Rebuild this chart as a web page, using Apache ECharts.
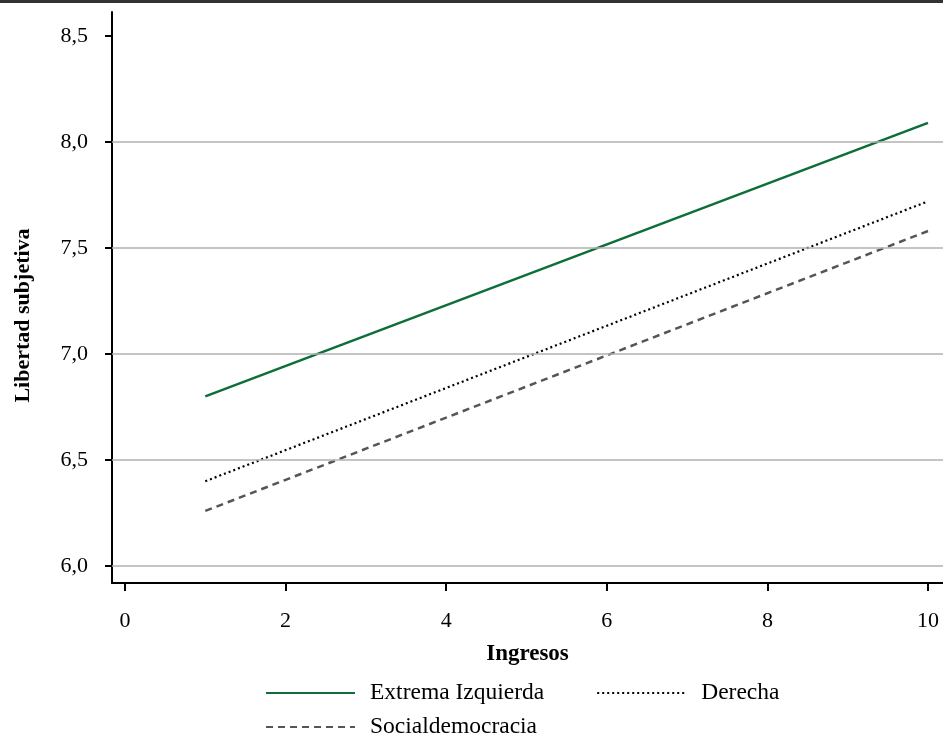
<!DOCTYPE html>
<html>
<head>
<meta charset="utf-8">
<script src="https://cdn.jsdelivr.net/npm/echarts@6/dist/echarts.min.js"></script>
<style>
html,body{margin:0;padding:0;background:#fff;}
#chart{width:943px;height:733px;}
</style>
</head>
<body>
<div id="chart"></div>
<script>
// Data
const seriesNames = ['Extrema Izquierda', 'Derecha', 'Socialdemocracia'];
const extremaIzquierda = [[1, 6.80], [10, 8.09]];
const derecha = [[1, 6.40], [10, 7.72]];
const socialdemocracia = [[1, 6.26], [10, 7.58]];
const xTicks = [0, 2, 4, 6, 8, 10];
const yTicks = [6.0, 6.5, 7.0, 7.5, 8.0, 8.5];
const gridValues = [6.0, 6.5, 7.0, 7.5, 8.0];

const FONT = '"Liberation Serif", "Times New Roman", serif';
const chart = echarts.init(document.getElementById('chart'), null, {renderer: 'canvas'});

const option = {
  backgroundColor: '#fff',
  animation: false,
  graphic: [{
    type: 'rect', left: 0, top: 0, z: 100,
    shape: {width: 943, height: 3},
    style: {fill: '#333'}
  }],
  grid: {left: 112, right: 0, top: 12, bottom: 150, containLabel: false},
  xAxis: {
    type: 'value',
    min: -0.162, max: 10.187,
    name: 'Ingresos',
    nameLocation: 'middle',
    nameGap: 60,
    nameTextStyle: {fontFamily: FONT, fontSize: 23, fontWeight: 'bold', color: '#000'},
    axisLine: {show: true, onZero: false, lineStyle: {color: '#000', width: 2}},
    axisTick: {show: true, length: 8, lineStyle: {color: '#000', width: 2}, customValues: xTicks},
    axisLabel: {customValues: xTicks, fontFamily: FONT, fontSize: 22, color: '#000', margin: 27,
      formatter: v => String(v)},
    splitLine: {show: false}
  },
  yAxis: {
    type: 'value',
    min: 5.92, max: 8.613,
    name: 'Libertad subjetiva',
    nameLocation: 'middle',
    nameGap: 78,
    nameRotate: 90,
    nameTextStyle: {fontFamily: FONT, fontSize: 22, fontWeight: 'bold', color: '#000', padding: [0, 36, 0, 0]},
    axisLine: {show: true, onZero: false, lineStyle: {color: '#000', width: 2}},
    axisTick: {show: true, length: 7, lineStyle: {color: '#000', width: 2}, customValues: yTicks},
    axisLabel: {customValues: yTicks, fontFamily: FONT, fontSize: 22, color: '#000', margin: 24,
      formatter: v => v.toFixed(1).replace('.', ',')},
    splitLine: {show: false}
  },
  legend: [{
    data: [seriesNames[0], seriesNames[1]],
    left: 260, top: 676, orient: 'horizontal',
    itemWidth: 89, itemHeight: 14, itemGap: 52,
    itemStyle: {color: 'rgba(0,0,0,0)', borderWidth: 0, opacity: 0},
    textStyle: {fontFamily: FONT, fontSize: 23.5, color: '#000', padding: [0, 0, 0, 10]},
    selectedMode: false
  }, {
    data: [seriesNames[2]],
    left: 260, top: 710, orient: 'horizontal',
    itemWidth: 89, itemHeight: 14,
    itemStyle: {color: 'rgba(0,0,0,0)', borderWidth: 0, opacity: 0},
    textStyle: {fontFamily: FONT, fontSize: 23.5, color: '#000', padding: [0, 0, 0, 10]},
    selectedMode: false
  }],
  series: [
    {
      name: '__grid', type: 'line', data: [], z: 1, silent: true,
      markLine: {
        silent: true, symbol: ['none', 'none'], label: {show: false},
        lineStyle: {color: '#b0b0b0', width: 1.5, type: 'solid'},
        data: gridValues.map(v => ({yAxis: v}))
      }
    },
    {
      name: seriesNames[0], type: 'line', data: extremaIzquierda, z: 3,
      symbol: 'none', color: '#0d6e3a',
      lineStyle: {color: '#0d6e3a', width: 2.5, type: 'solid'}
    },
    {
      name: seriesNames[1], type: 'line', data: derecha, z: 3,
      symbol: 'none', color: '#000',
      lineStyle: {color: '#000', width: 2.2, type: [2, 3]}
    },
    {
      name: seriesNames[2], type: 'line', data: socialdemocracia, z: 3,
      symbol: 'none', color: '#555',
      lineStyle: {color: '#555', width: 2.5, type: [7, 5]}
    }
  ]
};
chart.setOption(option);
</script>
</body>
</html>
